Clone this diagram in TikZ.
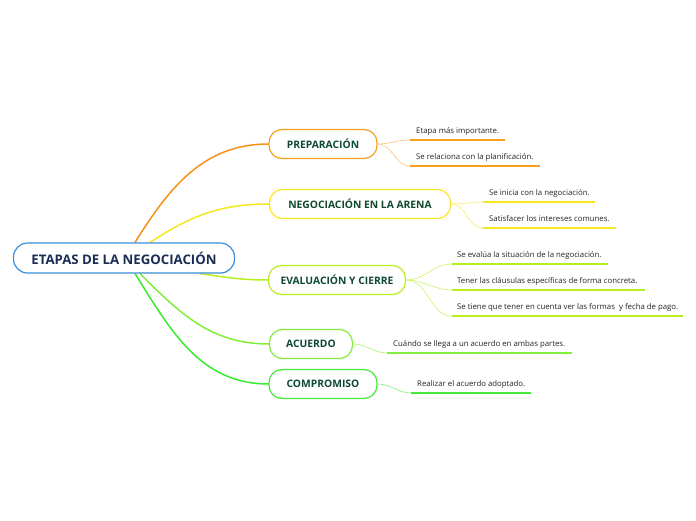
\documentclass[tikz,border=0pt]{standalone}
\usepackage{fontspec}
\setmainfont{Open Sans}
\usepackage{xcolor}
\usetikzlibrary{calc,positioning,backgrounds}
\definecolor{rootblue}{HTML}{3B8ED8}
\definecolor{rootink}{HTML}{1B2D55}
\definecolor{branchink}{HTML}{0E4A30}
\definecolor{leafink}{HTML}{222222}
\definecolor{cprep}{HTML}{F7A01C}
\definecolor{cneg}{HTML}{F6E61E}
\definecolor{ceval}{HTML}{B6EE1F}
\definecolor{cacu}{HTML}{80EE3A}
\definecolor{ccomp}{HTML}{46E83A}
\tikzset{
  root/.style={draw=rootblue,line width=1.2pt,fill=white,rounded corners=14pt,
    minimum height=30pt,text=rootink,font=\fontsize{13.2}{15}\selectfont\bfseries},
  branch/.style={line width=1.2pt,fill=white,rounded corners=13pt,minimum height=29pt,
    text=branchink,font=\fontsize{10.3}{12}\selectfont\bfseries},
  leaf/.style={inner sep=0pt,text=leafink,font=\fontsize{7.8}{9}\selectfont},
  limb/.style={line width=1.5pt},
  uline/.style={line width=1.8pt},
  twig/.style={line width=0.6pt}
}
\begin{document}
\begin{tikzpicture}[x=1pt,y=-1pt]
\useasboundingbox (0,0) rectangle (696,520);
% main topic and its branches
\node[root,minimum width=221pt] (root) at (124,258) {ETAPAS DE LA NEGOCIACIÓN};
\node[branch,draw=cprep,minimum width=108pt] (prep) at (323,144) {PREPARACIÓN};
\node[branch,draw=cneg,minimum width=181pt] (neg) at (360,204) {NEGOCIACIÓN EN LA ARENA};
\node[branch,draw=ceval,minimum width=137pt] (eval) at (337,280) {EVALUACIÓN Y CIERRE};
\node[branch,draw=cacu,minimum width=83pt] (acu) at (311,344) {ACUERDO};
\node[branch,draw=ccomp,minimum width=108pt] (comp) at (323,384) {COMPROMISO};
% where the limbs leave the main topic
\coordinate (hubP) at ([xshift=11pt]root.north);
\coordinate (hubN) at ([xshift=26pt]root.north);
\coordinate (hubE) at ([xshift=76pt]root.south);
\coordinate (hubA) at ([xshift=16pt]root.south);
\coordinate (hubC) at ([xshift=11pt]root.south);
\begin{pgfonlayer}{background}
  \draw[limb,cprep!90!red] (hubP) to[out=58,in=180] (prep.west);
  \draw[limb,cneg] (hubN) to[out=33,in=180] (neg.west);
  \draw[limb,ceval] (hubE) to[out=-8,in=180] (eval.west);
  \draw[limb,cacu] (hubA) to[out=-45,in=180] (acu.west);
  \draw[limb,ccomp!80!green] (hubC) to[out=-58,in=180] (comp.west);
\end{pgfonlayer}
% leaves
\foreach \nm/\uy/\ux/\txt in {p1/140/505/{Etapa más importante.},
                              p2/166/540/{Se relaciona con la planificación.}}{
  \coordinate (\nm a) at (410,\uy);
  \coordinate (\nm b) at (\ux,\uy);
  \draw[uline,cprep] (\nm a) -- (\nm b);
  \node[leaf,anchor=base west] (\nm) at ($(\nm a)+(6,-6.5)$) {\txt};
  \draw[twig,cprep!60] (prep.east) to[out=0,in=180] (\nm a);
}
\foreach \nm/\uy/\ux/\txt in {n1/202/595/{Se inicia con la negociación.},
                              n2/228/616/{Satisfacer los intereses comunes.}}{
  \coordinate (\nm a) at (483,\uy);
  \coordinate (\nm b) at (\ux,\uy);
  \draw[uline,cneg] (\nm a) -- (\nm b);
  \node[leaf,anchor=base west] (\nm) at ($(\nm a)+(6,-6.5)$) {\txt};
  \draw[twig,cneg!70] (neg.east) to[out=0,in=180] (\nm a);
}
\foreach \nm/\uy/\ux/\txt in {e1/264/608/{Se evalúa la situación de la negociación.},
                              e2/290/645/{Tener las cláusulas específicas de forma concreta.},
                              e3/316/683/{Se tiene que tener en cuenta ver las formas \ y fecha de pago.}}{
  \coordinate (\nm a) at (452,\uy);
  \coordinate (\nm b) at (\ux,\uy);
  \draw[uline,ceval] (\nm a) -- (\nm b);
  \node[leaf,anchor=base west] (\nm) at ($(\nm a)+(5,-6.5)$) {\txt};
  \draw[twig,ceval!70] (eval.east) to[out=0,in=180] (\nm a);
}
\coordinate (a1a) at (387,353);
\coordinate (a1b) at (572,353);
\draw[uline,cacu] (a1a) -- (a1b);
\node[leaf,anchor=base west] (a1) at ($(a1a)+(6,-6.5)$) {Cuándo se llega a un acuerdo en ambas partes.};
\draw[twig,cacu!70] (acu.east) to[out=0,in=180] (a1a);
\coordinate (c1a) at (411,393);
\coordinate (c1b) at (531,393);
\draw[uline,ccomp] (c1a) -- (c1b);
\node[leaf,anchor=base west] (c1) at ($(c1a)+(6,-6.5)$) {Realizar el acuerdo adoptado.};
\draw[twig,ccomp!70] (comp.east) to[out=0,in=180] (c1a);
\end{tikzpicture}
\end{document}
